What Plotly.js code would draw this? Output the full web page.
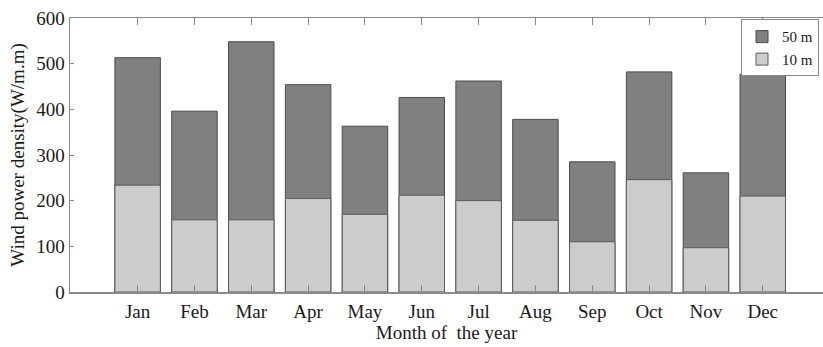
<!DOCTYPE html>
<html>
<head>
<meta charset="utf-8">
<script src="https://cdn.plot.ly/plotly-3.0.1.min.js"></script>
<style>html,body{margin:0;padding:0;background:#fff;}#chart{width:823px;height:347px;}</style>
</head>
<body>
<div id="chart"></div>
<script>
const months = ["Jan","Feb","Mar","Apr","May","Jun","Jul","Aug","Sep","Oct","Nov","Dec"];
const density50m = [513, 396, 548, 454, 363, 426, 462, 378, 285, 482, 261, 477];
const density10m = [234, 158, 158, 205, 170, 212, 200, 157, 110, 246, 97, 210];
const seriesNames = ["50 m", "10 m"];

const font = {family: "Liberation Serif", size: 19, color: "#1a1a1a"};
const legendFont = {family: "Liberation Serif", size: 15, color: "#1a1a1a"};

const traces = [
  {type: "bar", x: months, y: density50m, name: seriesNames[0],
   marker: {color: "#808080", line: {color: "#4a4a4a", width: 1}}, width: 0.8},
  {type: "bar", x: months, y: density10m, name: seriesNames[1],
   marker: {color: "#cccccc", line: {color: "#5a5a5a", width: 1}}, width: 0.8}
];

const layout = {
  width: 823, height: 347,
  margin: {l: 70, r: 0, t: 18, b: 55},
  paper_bgcolor: "#fff", plot_bgcolor: "#fff",
  barmode: "overlay",
  font: font,
  showlegend: true,
  legend: {x: 0.9947, xanchor: "right", y: 0.995, yanchor: "top",
           bordercolor: "#8a8a8a", borderwidth: 1, bgcolor: "#fff",
           font: legendFont, tracegroupgap: 0, traceorder: "normal",
           itemwidth: 30},
  xaxis: {
    type: "category", range: [-1.19, 12.06],
    showline: true, linecolor: "#8a8a8a", linewidth: 1.5, mirror: "ticks",
    ticks: "inside", ticklen: 7, tickcolor: "#8a8a8a", tickwidth: 1,
    showgrid: false, zeroline: false, tickfont: font,
    ticklabelstandoff: 2,
    title: {text: "Month of\u00a0 the year", font: font, standoff: 4}
  },
  yaxis: {
    range: [0, 600], dtick: 100,
    showline: true, linecolor: "#8a8a8a", linewidth: 1.5, mirror: false,
    ticks: "inside", ticklen: 4, tickcolor: "#8a8a8a", tickwidth: 1,
    showgrid: false, zeroline: false, tickfont: font,
    title: {text: "Wind power density(W/m.m)", font: font, standoff: 6}
  }
};

Plotly.newPlot("chart", traces, layout, {displayModeBar: false, staticPlot: true});
</script>
</body>
</html>
